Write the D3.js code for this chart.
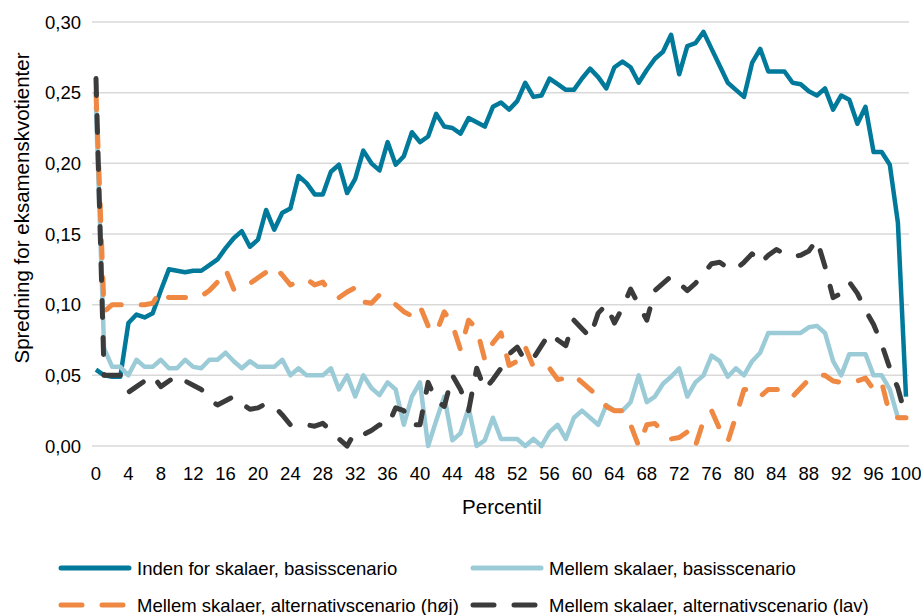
<!DOCTYPE html>
<html>
<head>
<meta charset="utf-8">
<script src="https://cdn.jsdelivr.net/npm/d3@7"></script>
<style>
  body { margin: 0; background: #fff; }
  text { font-family: "Liberation Sans", Arial, sans-serif; fill: #000; }
</style>
</head>
<body>
<svg width="921" height="615"></svg>
<script>

// percentiles 0..100
const percentiles = d3.range(0, 101);

const indenBasis = [
    0.054, 0.050, 0.049, 0.049, 0.087, 0.093, 0.091, 0.094, 0.110, 0.125,
    0.124, 0.123, 0.124, 0.124, 0.128, 0.132, 0.140, 0.147, 0.152, 0.141,
    0.146, 0.167, 0.153, 0.165, 0.168, 0.191, 0.186, 0.178, 0.178, 0.194,
    0.199, 0.179, 0.189, 0.209, 0.200, 0.195, 0.215, 0.199, 0.205, 0.222,
    0.215, 0.219, 0.235, 0.226, 0.225, 0.221, 0.232, 0.229, 0.226, 0.240,
    0.243, 0.238, 0.244, 0.257, 0.247, 0.248, 0.260, 0.256, 0.252, 0.252,
    0.260, 0.267, 0.261, 0.253, 0.268, 0.272, 0.268, 0.257, 0.266, 0.274,
    0.279, 0.291, 0.263, 0.283, 0.285, 0.293, 0.281, 0.269, 0.257, 0.252,
    0.247, 0.271, 0.281, 0.265, 0.265, 0.265, 0.257, 0.256, 0.251, 0.248,
    0.253, 0.238, 0.248, 0.245, 0.228, 0.240, 0.208, 0.208, 0.199, 0.158,
    0.035
];

const mellemBasis = [
    0.240, 0.069, 0.056, 0.056, 0.050, 0.061, 0.056, 0.056, 0.061, 0.055,
    0.055, 0.061, 0.056, 0.055, 0.061, 0.061, 0.066, 0.060, 0.055, 0.060,
    0.056, 0.056, 0.056, 0.061, 0.050, 0.055, 0.050, 0.050, 0.050, 0.055,
    0.040, 0.050, 0.035, 0.050, 0.041, 0.036, 0.045, 0.040, 0.015, 0.035,
    0.045, 0.000, 0.018, 0.035, 0.004, 0.009, 0.027, 0.000, 0.004, 0.020,
    0.005, 0.005, 0.005, 0.000, 0.005, 0.000, 0.010, 0.015, 0.005, 0.020,
    0.025, 0.020, 0.015, 0.029, 0.025, 0.025, 0.031, 0.050, 0.031, 0.035,
    0.044, 0.049, 0.055, 0.035, 0.045, 0.050, 0.064, 0.060, 0.049, 0.055,
    0.050, 0.060, 0.066, 0.080, 0.080, 0.080, 0.080, 0.080, 0.084, 0.085,
    0.080, 0.060, 0.050, 0.065, 0.065, 0.065, 0.050, 0.050, 0.040, 0.020,
    0.020
];

const mellemHoj = [
    0.250, 0.095, 0.100, 0.100, 0.100, 0.100, 0.100, 0.101, 0.110, 0.105,
    0.105, 0.105, 0.105, 0.106, 0.110, 0.116, 0.125, 0.111, 0.111, 0.115,
    0.119, 0.123, 0.127, 0.121, 0.114, 0.116, 0.118, 0.114, 0.116, 0.108,
    0.105, 0.109, 0.112, 0.102, 0.101, 0.107, 0.103, 0.100, 0.095, 0.092,
    0.099, 0.085, 0.080, 0.095, 0.086, 0.068, 0.089, 0.083, 0.061, 0.073,
    0.080, 0.057, 0.060, 0.070, 0.056, 0.056, 0.055, 0.047, 0.048, 0.050,
    0.045, 0.040, 0.035, 0.028, 0.025, 0.025, 0.015, 0.000, 0.015, 0.016,
    0.010, 0.005, 0.006, 0.010, 0.000, 0.018, 0.025, 0.012, 0.003, 0.021,
    0.040, 0.040, 0.035, 0.040, 0.040, 0.040, 0.035, 0.041, 0.047, 0.050,
    0.050, 0.046, 0.045, 0.045, 0.046, 0.048, 0.040, 0.045, 0.022, 0.020,
    0.020
];

const mellemLav = [
    0.260, 0.050, 0.050, 0.050, 0.038, 0.042, 0.046, 0.050, 0.042, 0.046,
    0.050, 0.046, 0.043, 0.040, 0.033, 0.029, 0.032, 0.035, 0.030, 0.026,
    0.027, 0.030, 0.028, 0.022, 0.015, 0.015, 0.015, 0.014, 0.016, 0.011,
    0.005, 0.000, 0.010, 0.008, 0.011, 0.015, 0.014, 0.027, 0.025, 0.015,
    0.015, 0.045, 0.032, 0.028, 0.050, 0.040, 0.025, 0.055, 0.040, 0.047,
    0.055, 0.065, 0.070, 0.060, 0.062, 0.071, 0.080, 0.075, 0.071, 0.089,
    0.083, 0.077, 0.094, 0.100, 0.087, 0.098, 0.111, 0.100, 0.089, 0.110,
    0.115, 0.120, 0.115, 0.110, 0.115, 0.122, 0.129, 0.130, 0.126, 0.125,
    0.130, 0.136, 0.129, 0.135, 0.139, 0.136, 0.134, 0.135, 0.138, 0.146,
    0.127, 0.105, 0.108, 0.116, 0.108, 0.096, 0.086, 0.072, 0.055, 0.041,
    0.020
];

const yTicks = [0, 0.05, 0.10, 0.15, 0.20, 0.25, 0.30];
const xTicks = d3.range(0, 101, 4);

const series = [
    {name: 'Inden for skalaer, basisscenario', values: indenBasis, color: '#00799a', dash: null},
    {name: 'Mellem skalaer, basisscenario', values: mellemBasis, color: '#9ccbd8', dash: null},
    {name: 'Mellem skalaer, alternativscenario (høj)', values: mellemHoj, color: '#ee8843', dash: '17,20'},
    {name: 'Mellem skalaer, alternativscenario (lav)', values: mellemLav, color: '#3b3b3b', dash: '17,20'}
];

const svg = d3.select('svg');

const x = d3.scaleLinear().domain([0, 100]).range([96, 906]);
const y = d3.scaleLinear().domain([0, 0.30]).range([446, 22]);

const fmt = v => d3.format('.2f')(v).replace('.', ',');

// gridlines
svg.append('g')
    .selectAll('line')
    .data(yTicks)
    .enter()
    .append('line')
        .attr('x1', 92)
        .attr('x2', 909)
        .attr('y1', d => y(d))
        .attr('y2', d => y(d))
        .attr('stroke', '#d9d9d9')
        .attr('stroke-width', 1.5);

// y tick labels
svg.append('g')
    .selectAll('text')
    .data(yTicks)
    .enter()
    .append('text')
        .attr('x', 81)
        .attr('y', d => y(d) + 6.5)
        .attr('text-anchor', 'end')
        .attr('font-size', 18.5)
        .text(d => fmt(d));

// x tick labels
svg.append('g')
    .selectAll('text')
    .data(xTicks)
    .enter()
    .append('text')
        .attr('x', d => x(d))
        .attr('y', 480)
        .attr('text-anchor', 'middle')
        .attr('font-size', 18.5)
        .text(d => d);

// axis titles
svg.append('text')
    .attr('x', 502)
    .attr('y', 514)
    .attr('text-anchor', 'middle')
    .attr('font-size', 20.5)
    .text('Percentil');

svg.append('text')
    .attr('transform', 'translate(29,' + 208 + ') rotate(-90)')
    .attr('text-anchor', 'middle')
    .attr('font-size', 20.5)
    .text('Spredning for eksamenskvotienter');

// lines
const line = d3.line()
    .x((d, i) => x(percentiles[i]))
    .y(d => y(d));

svg.append('g')
    .selectAll('path')
    .data(series)
    .enter()
    .append('path')
        .attr('d', d => line(d.values))
        .attr('fill', 'none')
        .attr('stroke', d => d.color)
        .attr('stroke-width', d => d.dash ? 5 : 4.5)
        .attr('stroke-dasharray', d => d.dash)
        .attr('stroke-linecap', d => d.dash ? 'round' : 'butt')
        .attr('stroke-linejoin', 'round');

// legend
const legendPos = [
    {lx: 59, ly: 568},
    {lx: 471, ly: 568},
    {lx: 59, ly: 605},
    {lx: 471, ly: 605}
];

const legend = svg.append('g')
    .selectAll('g')
    .data(series)
    .enter()
    .append('g')
        .attr('transform', (d, i) => 'translate(' + legendPos[i].lx + ',' + legendPos[i].ly + ')');

legend.append('line')
    .attr('x1', 2)
    .attr('x2', d => d.dash ? 66 : 70)
    .attr('y1', 0)
    .attr('y2', 0)
    .attr('stroke', d => d.color)
    .attr('stroke-width', 5)
    .attr('stroke-linecap', 'round')
    .attr('stroke-dasharray', d => d.dash ? '21,20' : null);

legend.append('text')
    .attr('x', 78)
    .attr('y', 6.5)
    .attr('font-size', 18.5)
    .text(d => d.name);

</script>
</body>
</html>
